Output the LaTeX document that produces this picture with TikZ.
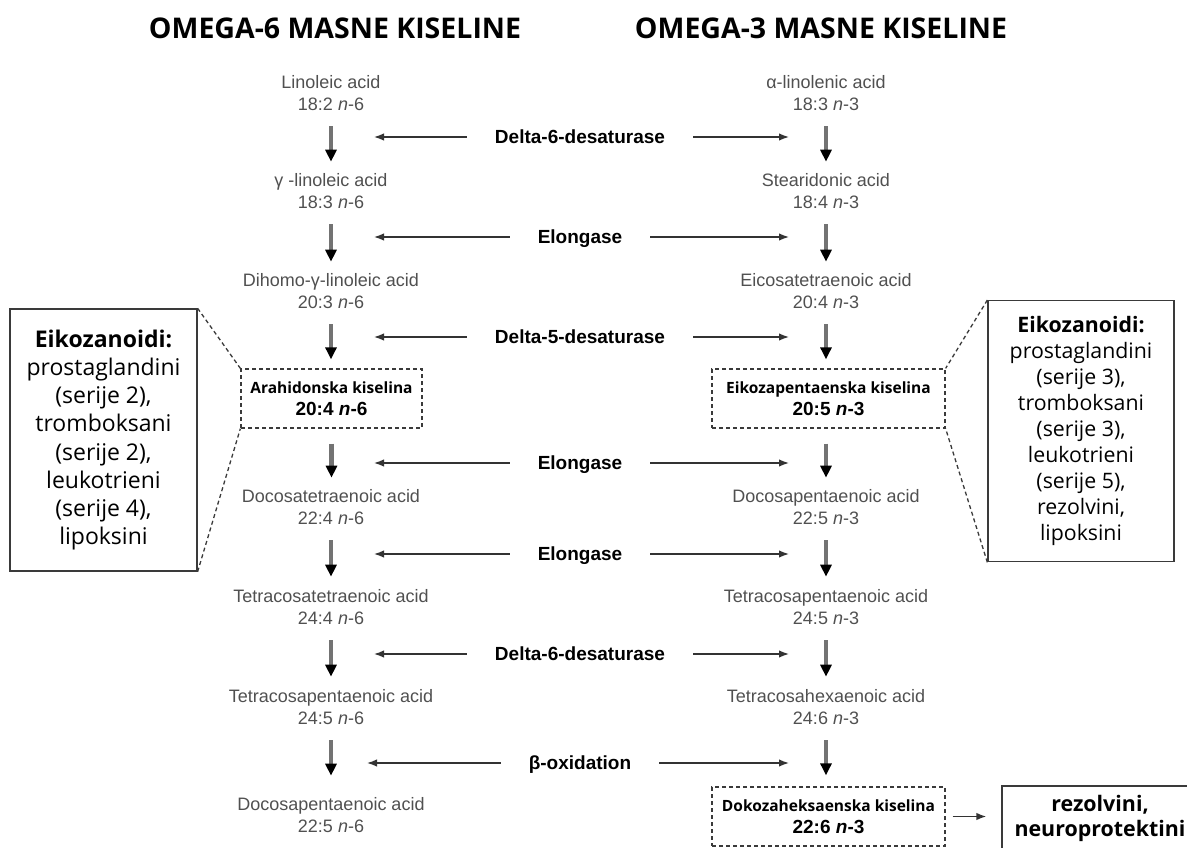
\documentclass[tikz,border=0pt]{standalone}
\usepackage{fontspec}
\setmainfont{Liberation Sans}
\newfontfamily\opensans{Open Sans}
\usepackage{xcolor}
\usetikzlibrary{arrows.meta,positioning,calc}

\definecolor{acidgrey}{HTML}{505050}
\definecolor{linegrey}{HTML}{3A3A3A}

\tikzset{
  heading/.style={anchor=base,inner sep=0pt,font=\opensans\bfseries\fontsize{28.5}{30}\selectfont},
  acid/.style={align=center,inner sep=0pt,text=acidgrey,font=\fontsize{18}{22}\selectfont},
  keyacid/.style={draw=linegrey,line width=1.3pt,dash pattern=on 4pt off 3pt,align=center,inner sep=0pt,
    minimum height=59pt,font=\fontsize{19}{22.5}\selectfont\bfseries},
  enzyme/.style={inner xsep=28pt,inner ysep=0pt,text height=13.7pt,text depth=0pt,
    font=\fontsize{19}{22}\selectfont\bfseries},
  infobox/.style={draw=linegrey,line width=1.3pt,align=center,inner sep=0pt},
  flow/.style={-{Triangle[width=11pt,length=12pt,color=black]},line width=4.5pt,draw=black!55,shorten <=15},
  branch/.style={-{Latex[length=10pt,width=7.5pt]},line width=1.5pt,draw=black!80},
  callout/.style={draw=linegrey,line width=1.3pt,dash pattern=on 4pt off 3pt}
}

\begin{document}
\begin{tikzpicture}[x=1pt,y=-1pt]
  \useasboundingbox (0,0) rectangle (1187,848);
  \clip (0,0) rectangle (1187,848);
  % headings
  \node[heading] (head6) at (335,38.5) {OMEGA-6 MASNE KISELINE};
  \node[heading] (head3) at (821,38.5) {OMEGA-3 MASNE KISELINE};
  % omega-6 column
  \foreach \i/\y/\name/\chain in {1/93.5/Linoleic acid/18:2, 2/191.5/γ -linoleic acid/18:3,
      3/291.5/Dihomo-γ-linoleic acid/20:3, 5/507.5/Docosatetraenoic acid/22:4,
      6/607.5/Tetracosatetraenoic acid/24:4, 7/707.5/Tetracosapentaenoic acid/24:5,
      8/815.5/Docosapentaenoic acid/22:5} {
    \node[acid] (L\i) at (331,\y) {\name\\\chain\ \textit{n}-6};
  }
  \node[keyacid,minimum width=181pt] (L4) at (331.5,398.5)
    {{\opensans\fontsize{15.5}{22.5}\selectfont Arahidonska kiselina}\\20:4 \textit{n}-6};
  % omega-3 column
  \foreach \i/\y/\name/\chain in {1/93.5/α-linolenic acid/18:3, 2/191.5/Stearidonic acid/18:4,
      3/291.5/Eicosatetraenoic acid/20:4, 5/507.5/Docosapentaenoic acid/22:5,
      6/607.5/Tetracosapentaenoic acid/24:5, 7/707.5/Tetracosahexaenoic acid/24:6} {
    \node[acid] (R\i) at (826,\y) {\name\\\chain\ \textit{n}-3};
  }
  \node[keyacid,minimum width=233pt] (R4) at (828.5,398.5)
    {{\opensans\fontsize{15.5}{22.5}\selectfont Eikozapentaenska kiselina}\\20:5 \textit{n}-3};
  \node[keyacid,minimum width=233pt] (R8) at (828.5,816.5)
    {{\opensans\fontsize{15.5}{22.5}\selectfont Dokozaheksaenska kiselina}\\22:6 \textit{n}-3};
  % conversion steps
  \foreach \a/\b/\s in {1/2/12,2/3/12,3/4/9,4/5/12,5/6/13,6/7/13,7/8/22}
    \draw[flow,shorten >=\s] (L\a.south) -- (L\a.south |- L\b.north);
  \foreach \a/\b/\s in {1/2/12,2/3/12,3/4/9,4/5/12,5/6/13,6/7/13,7/8/11}
    \draw[flow,shorten >=\s] (R\a.south -| 826,0) -- (826,0 |- R\b.north);
  % enzymes
  \foreach \i/\y/\enz/\lx in {1/137/Delta-6-desaturase/374, 2/237/Elongase/374,
      3/337/Delta-5-desaturase/374, 4/463/Elongase/374, 5/554/Elongase/374,
      6/654/Delta-6-desaturase/374, 7/763/β-oxidation/367} {
    \node[enzyme] (E\i) at (580,\y) {\enz};
    \coordinate (EL\i) at (\lx,\y);
    \coordinate (ER\i) at (789,\y);
    \draw[branch] (E\i.west) -- (EL\i);
    \draw[branch] (E\i.east) -- (ER\i);
  }
  % eicosanoid boxes
  \node[infobox,minimum width=187pt,minimum height=262pt,font=\opensans\fontsize{23}{28.2}\selectfont]
    (eikoL) at (103.5,440) {\textbf{Eikozanoidi:}\\prostaglandini\\(serije 2),\\tromboksani\\(serije 2),\\leukotrieni\\(serije 4),\\lipoksini};
  \node[infobox,minimum width=186pt,minimum height=261pt,font=\opensans\fontsize{21.3}{26}\selectfont]
    (eikoR) at (1081,431.2) {\textbf{Eikozanoidi:}\\prostaglandini\\(serije 3),\\tromboksani\\(serije 3),\\leukotrieni\\(serije 5),\\rezolvini,\\lipoksini};
  \draw[callout] (eikoL.north east) -- (L4.north west);
  \draw[callout] (eikoL.south east) -- (L4.south west);
  \draw[callout] (eikoR.north west) -- (R4.north east);
  \draw[callout] (eikoR.south west) -- (R4.south east);
  % DHA products
  \node[infobox,minimum width=196pt,minimum height=65pt,font=\opensans\bfseries\fontsize{21.4}{25}\selectfont]
    (rez) at (1100,818.6) {rezolvini,\\neuroprotektini};
  \draw[branch,shorten <=7,shorten >=15] (R8.east) -- (R8.east -| rez.west);
\end{tikzpicture}
\end{document}
